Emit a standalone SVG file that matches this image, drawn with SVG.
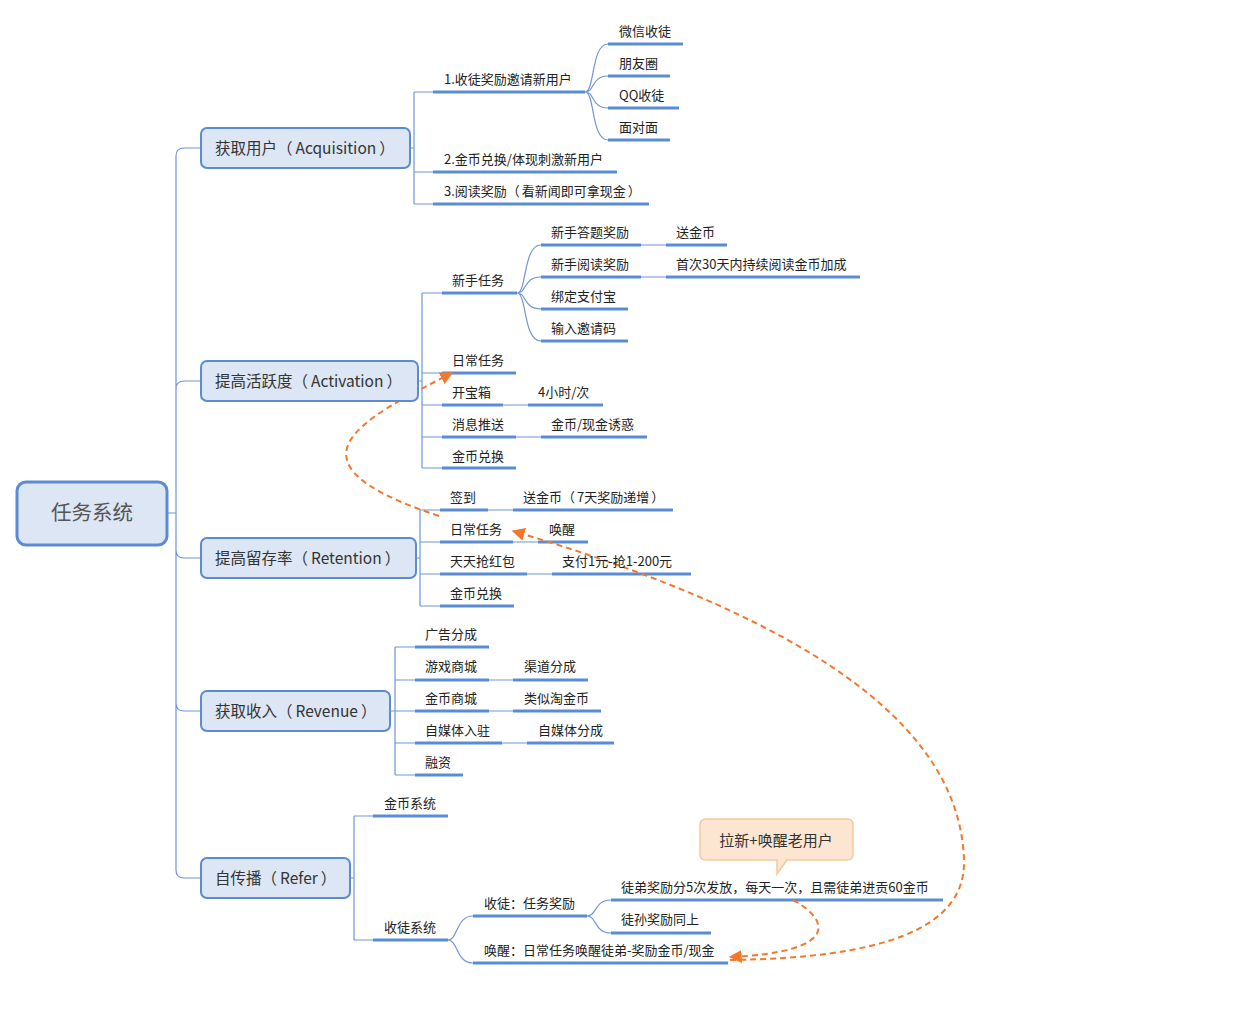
<svg xmlns="http://www.w3.org/2000/svg" width="1241" height="1010" viewBox="0 0 1241 1010">
<style>
text{font-family:"Noto Sans CJK SC","Microsoft YaHei",sans-serif;fill:#222;font-size:13px}
.l1{font-size:15.5px;fill:#333}
.root{font-size:20.5px;fill:#555}
.box{fill:#dce6f4;stroke:#5b8bd3;stroke-width:2}
.rootbox{fill:#dce6f4;stroke:#5b8bd3;stroke-width:3}
.thin{fill:none;stroke:#6f96d8;stroke-width:1.2}
.ul{fill:none;stroke:#5a8cd6;stroke-width:3}
.rel{fill:none;stroke:#f4782c;stroke-width:2;stroke-dasharray:6 4}
.callout{fill:#fde6d1;stroke:#f5c99e;stroke-width:1.5}
</style>
<defs>
<marker id="arr" viewBox="0 0 10 10" refX="9" refY="5" markerWidth="13" markerHeight="13" markerUnits="userSpaceOnUse" orient="auto">
<path d="M0,0 L10,5 L0,10 z" fill="#f4782c"/>
</marker>
</defs>
<rect width="1241" height="1010" fill="#fff"/>

<g id="connectors">
<path class="thin" d="M167,513 H176 M176,156 V870 M201,148 H184 Q176,148 176,156 M201,381 H184 Q176,381 176,389 M201,558 H184 Q176,558 176,550 M201,711 H184 Q176,711 176,703 M201,878 H184 Q176,878 176,870"/>
<path class="thin" d="M410,148 H414 M414,92 V204 M414,92 H433 M414,172 H433 M414,204 H433"/>
<path class="thin" d="M585,92 C595,92 591,44 608,44 M585,92 C595,92 591,76 608,76 M585,92 C595,92 591,108 608,108 M585,92 C595,92 591,140 608,140"/>
<path class="thin" d="M418,381 H422 M422,293 V468 M422,293 H442 M422,373 H442 M422,405 H442 M422,437 H442 M422,468 H442 M503,405 H528 M516,437 H541"/>
<path class="thin" d="M517,293 C527,293 523,245 541,245 M517,293 C527,293 523,277 541,277 M517,293 C527,293 523,309 541,309 M517,293 C527,293 523,341 541,341 M641,245 H666 M641,277 H666"/>
<path class="thin" d="M416,558 H420 M420,510 V606 M420,510 H440 M420,542 H440 M420,574 H440 M420,606 H440 M488,510 H513 M513,542 H538 M527,574 H552"/>
<path class="thin" d="M390,711 H395 M395,647 V775 M395,647 H415 M395,680 H415 M395,711 H415 M395,743 H415 M395,775 H415 M489,680 H513 M489,711 H513 M502,743 H527"/>
<path class="thin" d="M350,878 H354 M354,816 V940 M354,816 H373 M354,940 H373"/>
<path class="thin" d="M448,940 C458,940 456,916 473,916 M448,940 C458,940 456,963 473,963 M587,916 C597,916 594,900 611,900 M587,916 C597,916 594,933 611,933"/>

<path class="ul" d="M433,92 H585 M433,172 H617 M433,204 H649 M608,44 H683 M608,76 H670 M608,108 H679 M608,140 H670"/>
<path class="ul" d="M442,293 H517 M442,373 H516 M442,405 H503 M528,405 H603 M442,437 H516 M541,437 H647 M442,468 H516 M541,245 H641 M666,245 H727 M541,277 H641 M666,277 H860 M541,309 H628 M541,341 H628"/>
<path class="ul" d="M440,510 H488 M513,510 H673 M440,542 H513 M538,542 H588 M440,574 H527 M552,574 H691 M440,606 H514"/>
<path class="ul" d="M415,647 H489 M415,680 H489 M513,680 H588 M415,711 H489 M513,711 H601 M415,743 H502 M527,743 H614 M415,775 H463"/>
<path class="ul" d="M373,816 H448 M373,940 H448 M473,916 H587 M473,963 H728 M611,900 H943 M611,933 H711"/>

<path class="rel" marker-end="url(#arr)" d="M439,516 C275,462 360,420 452,373"/>
<path class="rel" marker-end="url(#arr)" d="M793,900 C830,920 840,952 730,957"/>
<path class="rel" marker-end="url(#arr)" d="M730,960 C880,958 966,930 964,860 C960,735 830,625 513,531"/>
</g>

<g id="root">
<rect class="rootbox" x="17" y="482" width="150" height="63" rx="9"/>
<text class="root" x="92" y="520" text-anchor="middle">任务系统</text>
</g>

<g id="n-acq">
<rect class="box" x="201" y="128" width="209" height="40" rx="6"/>
<text class="l1" x="215" y="154">获取用户（<tspan dx="3">Acquisition</tspan><tspan dx="3">）</tspan></text>
</g>
<g id="n-act">
<rect class="box" x="201" y="361" width="217" height="40" rx="6"/>
<text class="l1" x="215" y="387">提高活跃度（<tspan dx="3">Activation</tspan><tspan dx="3">）</tspan></text>
</g>
<g id="n-ret">
<rect class="box" x="201" y="538" width="215" height="40" rx="6"/>
<text class="l1" x="215" y="564">提高留存率（<tspan dx="3">Retention</tspan><tspan dx="3">）</tspan></text>
</g>
<g id="n-rev">
<rect class="box" x="201" y="691" width="189" height="40" rx="6"/>
<text class="l1" x="215" y="717">获取收入（<tspan dx="3">Revenue</tspan><tspan dx="3">）</tspan></text>
</g>
<g id="n-ref">
<rect class="box" x="201" y="858" width="149" height="40" rx="6"/>
<text class="l1" x="215" y="884">自传播（<tspan dx="3">Refer</tspan><tspan dx="3">）</tspan></text>
</g>

<g id="acq-children">
<text x="444" y="84">1.收徒奖励邀请新用户</text>
<text x="444" y="164">2.金币兑换/体现刺激新用户</text>
<text x="444" y="196">3.阅读奖励（<tspan dx="2">看新闻即可拿现金</tspan><tspan dx="2">）</tspan></text>
<text x="619" y="36">微信收徒</text>
<text x="619" y="68">朋友圈</text>
<text x="619" y="100">QQ收徒</text>
<text x="619" y="132">面对面</text>
</g>

<g id="act-children">
<text x="452" y="285">新手任务</text>
<text x="452" y="365">日常任务</text>
<text x="452" y="397">开宝箱</text>
<text x="538" y="397">4小时/次</text>
<text x="452" y="429">消息推送</text>
<text x="551" y="429">金币/现金诱惑</text>
<text x="452" y="461">金币兑换</text>
<text x="551" y="237">新手答题奖励</text>
<text x="676" y="237">送金币</text>
<text x="551" y="269">新手阅读奖励</text>
<text x="676" y="269">首次30天内持续阅读金币加成</text>
<text x="551" y="301">绑定支付宝</text>
<text x="551" y="333">输入邀请码</text>
</g>

<g id="ret-children">
<text x="450" y="502">签到</text>
<text x="523" y="502">送金币（<tspan dx="2">7天奖励递增</tspan><tspan dx="2">）</tspan></text>
<text x="450" y="534">日常任务</text>
<text x="549" y="534">唤醒</text>
<text x="450" y="566">天天抢红包</text>
<text x="562" y="566">支付1元-抢1-200元</text>
<text x="450" y="598">金币兑换</text>
</g>

<g id="rev-children">
<text x="425" y="639">广告分成</text>
<text x="425" y="671">游戏商城</text>
<text x="524" y="671">渠道分成</text>
<text x="425" y="703">金币商城</text>
<text x="524" y="703">类似淘金币</text>
<text x="425" y="735">自媒体入驻</text>
<text x="538" y="735">自媒体分成</text>
<text x="425" y="767">融资</text>
</g>

<g id="ref-children">
<text x="384" y="808">金币系统</text>
<text x="384" y="932">收徒系统</text>
<text x="484" y="908">收徒：任务奖励</text>
<text x="484" y="955">唤醒：日常任务唤醒徒弟-奖励金币/现金</text>
<text x="621" y="892">徒弟奖励分5次发放，每天一次，且需徒弟进贡60金币</text>
<text x="621" y="924">徒孙奖励同上</text>
</g>

<g id="callout">
<path class="callout" d="M706,819 H847 Q853,819 853,825 V854 Q853,860 847,860 H787 L777,874 L777,860 H706 Q700,860 700,854 V825 Q700,819 706,819 Z"/>
<text x="776" y="846" text-anchor="middle" style="font-size:15px;fill:#333">拉新+唤醒老用户</text>
</g>
</svg>
